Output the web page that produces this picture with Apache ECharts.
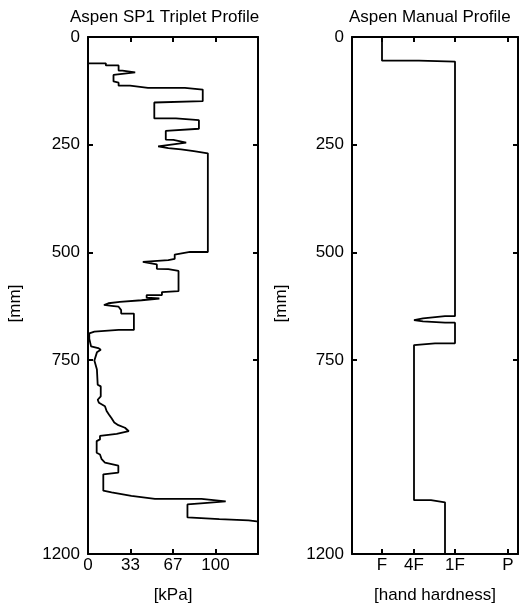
<!DOCTYPE html>
<html>
<head>
<meta charset="utf-8">
<script src="https://cdn.jsdelivr.net/npm/echarts@6/dist/echarts.min.js"></script>
<style>
  html, body { margin: 0; padding: 0; background: #fff; }
  #chart { width: 519px; height: 609px; }
</style>
</head>
<body>
<div id="chart"></div>
<script>
// SP1 triplet profile: resistance [kPa] against depth [mm]
const tripletKpa = [0, 14, 14, 24, 24, 27, 37, 20, 20, 24, 24, 33, 33, 47, 76, 90, 90, 52, 52, 69, 69, 87, 87, 61, 61, 67, 77, 55, 63, 73, 83, 94,
  94, 80, 80, 68, 68, 63, 43, 54, 54, 63, 63, 71, 71, 58, 58, 46, 46, 56, 42, 25, 16, 12.5, 18.5, 24, 24, 26, 26, 36,
  36, 24, 5, 1, 1, 1.6, 2.4, 8, 10, 7, 5, 7, 7.6, 10, 10, 7.6, 8.6, 13.3, 14.6, 16.4, 18.5, 20.6, 23.8, 29, 32,
  22.5, 9.4, 9.4, 6.8, 6.8, 9.4, 10.7, 13.3, 23.8, 23.8, 12, 12, 18.5, 34, 52.5, 89, 108, 91, 78, 78, 103, 126, 134]
const tripletDepth = [61, 61, 66, 66, 78, 78, 82, 88, 103, 106, 113, 113, 116, 118, 118, 122, 149, 152, 189, 189, 193, 193, 213, 218, 238, 239, 245, 254, 258, 261, 265, 270,
  499, 499, 503, 505, 515, 518, 522, 528, 538, 539, 543, 543, 590, 592, 599, 599, 605, 607, 611, 615, 618, 622, 624, 626, 630, 634, 642, 642,
  680, 680, 684, 688, 700, 703, 718, 722, 726, 732, 751, 772, 807, 811, 834, 842, 849, 857, 868, 876, 885, 895, 901, 907, 915,
  921, 926, 934, 938, 965, 969, 980, 988, 995, 1011, 1015, 1053, 1057, 1065, 1072, 1072, 1078, 1082, 1085, 1115, 1119, 1122, 1125]

// manual profile: hand hardness (axis units) against depth [mm]
const hardnessTicks = [30, 62, 103, 156]
const hardnessLabels = ['F', '4F', '1F', 'P']
const manualHardness = [30, 30, 67, 67, 103, 103, 93, 93, 71, 62, 71, 93, 103, 103, 83, 62, 62, 79, 93, 93]
const manualDepth = [0, 55, 55, 57, 57, 648, 648, 651, 653, 657, 660, 663, 663, 711, 711, 715, 1075, 1075, 1080, 1200]

const kpaTicks = [100 / 3, 200 / 3, 100]
const depthLabels = [0, 250, 500, 750, 1200]
const depthTicks = [250, 500, 750]

const font = '"Liberation Sans", Arial, sans-serif'
const black = '#000'

const chart = echarts.init(document.getElementById('chart'))

const axisStyle = { color: black, width: 2 }
const dataStyle = { color: black, width: 1.8 }
const tick = (vals) => ({ show: true, inside: true, length: 5, lineStyle: axisStyle, customValues: vals })
const noLabel = { show: false }

const xBase = (grid, pos, max, ticks) => ({
  type: 'value', gridIndex: grid, position: pos, min: 0, max: max,
  axisLine: { show: true, onZero: false, lineStyle: axisStyle },
  axisTick: tick(ticks),
  splitLine: { show: false }
})
const yBase = (grid, pos) => ({
  type: 'value', gridIndex: grid, position: pos, min: 0, max: 1200, inverse: true,
  axisLine: { show: true, onZero: false, lineStyle: axisStyle },
  axisTick: tick(depthTicks),
  splitLine: { show: false }
})

const textStyle = { color: black, fontSize: 17, fontFamily: font }

const option = {
  backgroundColor: '#fff',
  animation: false,
  textStyle: { fontFamily: font },
  title: [
    { text: 'Aspen SP1 Triplet Profile', left: 70, top: 9, padding: 0, textStyle: Object.assign({ fontWeight: 'normal' }, textStyle) },
    { text: 'Aspen Manual Profile', left: 349, top: 9, padding: 0, textStyle: Object.assign({ fontWeight: 'normal' }, textStyle) }
  ],
  grid: [
    { left: 88, top: 37, width: 170, height: 520 },
    { left: 352, top: 37, width: 166, height: 520 }
  ],
  xAxis: [
    Object.assign(xBase(0, 'bottom', 400 / 3, kpaTicks), {
      name: '[kPa]', nameLocation: 'middle', nameGap: 33, nameTextStyle: textStyle,
      axisLabel: Object.assign({ margin: 3, customValues: [0].concat(kpaTicks), formatter: (v) => String(Math.round(v)) }, textStyle)
    }),
    Object.assign(xBase(0, 'top', 400 / 3, kpaTicks), { axisLabel: noLabel }),
    Object.assign(xBase(1, 'bottom', 166, hardnessTicks), {
      name: '[hand hardness]', nameLocation: 'middle', nameGap: 33, nameTextStyle: textStyle,
      axisLabel: Object.assign({
        margin: 3, customValues: hardnessTicks,
        formatter: (v) => hardnessLabels[hardnessTicks.indexOf(v)] || ''
      }, textStyle)
    }),
    Object.assign(xBase(1, 'top', 166, hardnessTicks), { axisLabel: noLabel })
  ],
  yAxis: [
    Object.assign(yBase(0, 'left'), {
      name: '[mm]', nameLocation: 'middle', nameGap: 64,
      nameTextStyle: Object.assign({ padding: [0, 16, 0, 0] }, textStyle),
      axisLabel: Object.assign({ margin: 8, customValues: depthLabels, formatter: (v) => String(v) }, textStyle)
    }),
    Object.assign(yBase(0, 'right'), { axisLabel: noLabel }),
    Object.assign(yBase(1, 'left'), {
      name: '[mm]', nameLocation: 'middle', nameGap: 62,
      nameTextStyle: Object.assign({ padding: [0, 16, 0, 0] }, textStyle),
      axisLabel: Object.assign({ margin: 8, customValues: depthLabels, formatter: (v) => String(v) }, textStyle)
    }),
    Object.assign(yBase(1, 'right'), { axisLabel: noLabel })
  ],
  series: [
    {
      name: 'SP1 Triplet',
      type: 'line',
      xAxisIndex: 0,
      yAxisIndex: 0,
      data: tripletKpa.map((v, i) => [v, tripletDepth[i]]),
      showSymbol: false,
      lineStyle: dataStyle,
      clip: true
    },
    {
      name: 'Manual',
      type: 'line',
      xAxisIndex: 2,
      yAxisIndex: 2,
      data: manualHardness.map((v, i) => [v, manualDepth[i]]),
      showSymbol: false,
      lineStyle: dataStyle,
      clip: true
    }
  ]
}

chart.setOption(option)
</script>
</body>
</html>
